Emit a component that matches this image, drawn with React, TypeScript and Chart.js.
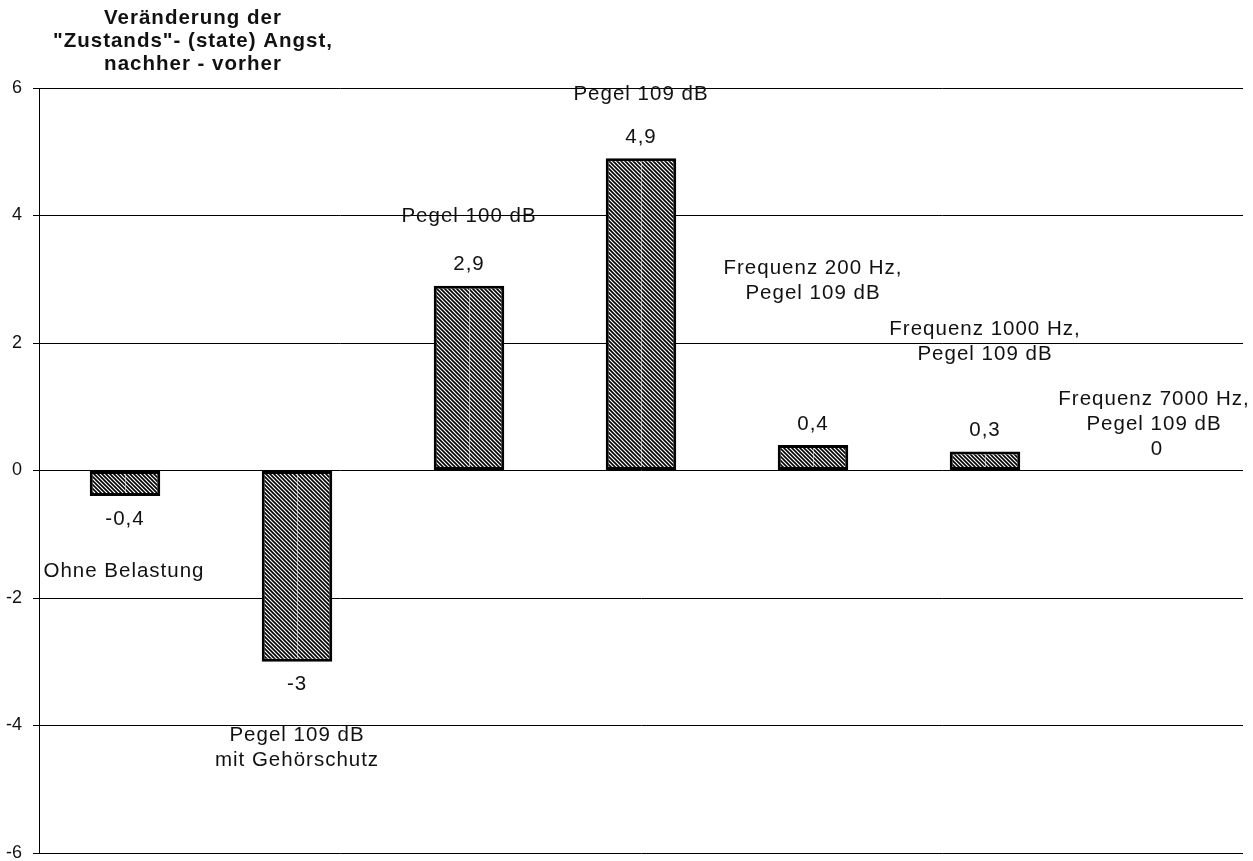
import { useEffect, useRef } from "react";
import { Chart, registerables } from "chart.js";

Chart.register(...registerables);

// Change of state anxiety (after minus before) per exposure condition
const categoryLines: string[][] = [
  ["Ohne Belastung"],
  ["Pegel 109 dB", "mit Gehörschutz"],
  ["Pegel 100 dB"],
  ["Pegel 109 dB"],
  ["Frequenz 200 Hz,", "Pegel 109 dB"],
  ["Frequenz 1000 Hz,", "Pegel 109 dB"],
  ["Frequenz 7000 Hz,", "Pegel 109 dB"],
];
const angstChange: number[] = [-0.4, -3, 2.9, 4.9, 0.4, 0.3, 0];
const yTickValues: number[] = [-6, -4, -2, 0, 2, 4, 6];
const titleLines: string[] = ["Veränderung der", "\"Zustands\"- (state) Angst,", "nachher - vorher"];

// Where each category caption sits, in px relative to the bar tip (first line centre)
const captionPlacement = [
  { dx: -1, dy: 75 },
  { dx: 0, dy: 74 },
  { dx: 0, dy: -69 },
  { dx: 0, dy: -64 },
  { dx: 0, dy: -177 },
  { dx: 0, dy: -122 },
  { dx: -3, dy: -71 },
];

const FONT = "'Liberation Sans', Arial, Helvetica, sans-serif";

function makeHatch(): CanvasPattern | string {
  const tile = document.createElement("canvas");
  tile.width = 4;
  tile.height = 4;
  const t = tile.getContext("2d");
  if (!t) return "#888";
  t.fillStyle = "#fff";
  t.fillRect(0, 0, 4, 4);
  t.strokeStyle = "#000";
  t.lineWidth = 1.6;
  t.beginPath();
  t.moveTo(-1, -1);
  t.lineTo(5, 5);
  t.moveTo(-2, 2);
  t.lineTo(2, 6);
  t.moveTo(2, -2);
  t.lineTo(6, 2);
  t.stroke();
  const p = t.createPattern(tile, "repeat");
  return p || "#888";
}

const fmt = (v: number) => String(v).replace(".", ",");

const annotationPlugin = {
  id: "barAnnotations",
  afterDatasetsDraw(chart: any) {
    const ctx: CanvasRenderingContext2D = chart.ctx;
    const meta = chart.getDatasetMeta(0);
    ctx.save();
    // light seam through the middle of each bar
    meta.data.forEach((el: any) => {
      const top = Math.min(el.y, el.base);
      const bottom = Math.max(el.y, el.base);
      if (bottom - top < 6) return;
      ctx.strokeStyle = "rgba(255,255,255,0.55)";
      ctx.lineWidth = 1;
      ctx.beginPath();
      ctx.moveTo(Math.round(el.x) + 0.5, top + 3);
      ctx.lineTo(Math.round(el.x) + 0.5, bottom - 3);
      ctx.stroke();
    });
    ctx.restore();
  },
  afterDraw(chart: any) {
    const ctx: CanvasRenderingContext2D = chart.ctx;
    const meta = chart.getDatasetMeta(0);
    ctx.save();
    ctx.fillStyle = "#111";
    ctx.textAlign = "center";
    ctx.textBaseline = "middle";
    (ctx as any).letterSpacing = "1px";
    ctx.font = `20.5px ${FONT}`;
    meta.data.forEach((el: any, i: number) => {
      const v = angstChange[i];
      const tip = el.y;
      const labelY = v < 0 ? tip + 23 : tip - 21;
      ctx.fillText(fmt(v), el.x, labelY);
      const place = captionPlacement[i];
      categoryLines[i].forEach((line, k) => {
        ctx.fillText(line, el.x + place.dx, tip + place.dy + k * 25);
      });
    });
    // axis caption
    ctx.font = `bold 20.5px ${FONT}`;
    (ctx as any).letterSpacing = "1px";
    titleLines.forEach((line, k) => {
      ctx.fillText(line, 193, 18 + k * 23);
    });
    ctx.restore();
  },
};

export default function App() {
  const canvasRef = useRef<HTMLCanvasElement | null>(null);

  useEffect(() => {
    if (!canvasRef.current) return;
    const chart = new Chart(canvasRef.current, {
      type: "bar",
      data: {
        labels: categoryLines.map((l) => l.join(" ")),
        datasets: [
          {
            data: angstChange,
            backgroundColor: makeHatch() as any,
            borderColor: "#000",
            borderWidth: 3,
            borderSkipped: false,
            barPercentage: 0.41,
            categoryPercentage: 1,
          },
        ],
      },
      options: {
        animation: false,
        responsive: false,
        events: [],
        layout: { padding: { top: 88, right: 10, bottom: 8, left: 0 } },
        plugins: {
          legend: { display: false },
          tooltip: { enabled: false },
          title: { display: false },
        },
        scales: {
          x: { display: false },
          y: {
            min: -6,
            max: 6,
            afterBuildTicks: (scale: any) => {
              scale.ticks = yTickValues.map((value) => ({ value }));
            },
            afterFit: (scale: any) => {
              scale.width = 39;
              scale.paddingTop = 0;
              scale.paddingBottom = 0;
            },
            grid: {
              color: "#000",
              lineWidth: 1,
              tickLength: 6,
              drawTicks: true,
            },
            border: { display: true, color: "#000", width: 1 },
            ticks: {
              color: "#111",
              padding: 11,
              font: { family: FONT, size: 18 },
              callback: (v: any) => String(v),
            },
          },
        },
      },
      plugins: [annotationPlugin],
    });
    return () => chart.destroy();
  }, []);

  return (
    <div style={{ position: "absolute", left: 0, top: 0, width: 1253, height: 861, background: "#fff" }}>
      <canvas ref={canvasRef} width={1253} height={861} />
    </div>
  );
}
